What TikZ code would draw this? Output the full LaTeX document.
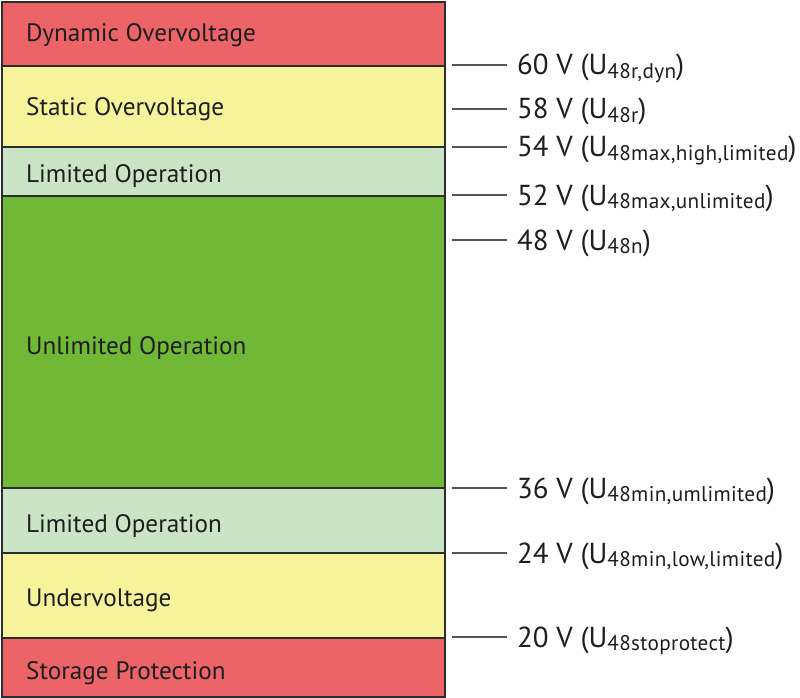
\documentclass[tikz,border=0pt]{standalone}
\usepackage{fontspec}
\setmainfont{PT Sans}
\definecolor{bandred}{RGB}{236,100,104}
\definecolor{bandyellow}{RGB}{247,243,155}
\definecolor{bandlight}{RGB}{204,228,198}
\definecolor{bandgreen}{RGB}{112,184,53}
\definecolor{bordergray}{RGB}{45,45,45}
\definecolor{tickgray}{RGB}{85,85,85}
\definecolor{textcol}{RGB}{30,30,30}
\newcommand\vsub[1]{\raisebox{-3.5bp}{\fontsize{21.3}{21.3}\selectfont\addfontfeatures{LetterSpace=1.5}#1}}
\begin{document}
\begin{tikzpicture}[x=1bp,y=-1bp,
  band/.style={draw=bordergray, line width=1.5bp},
  lbl/.style={anchor=base west, inner sep=0pt, font=\fontsize{25.3}{25.3}\selectfont, text=textcol},
  vlbl/.style={anchor=base west, inner sep=0pt, font=\fontsize{29}{29}\selectfont, text=textcol},
  tick/.style={draw=tickgray, line width=1.5bp}]
\useasboundingbox (0,0) rectangle (800,698);
% bands
\filldraw[band, fill=bandred]    (2,2)   rectangle (445,66);
\filldraw[band, fill=bandyellow] (2,66)  rectangle (445,147);
\filldraw[band, fill=bandlight]  (2,147) rectangle (445,196);
\filldraw[band, fill=bandgreen]  (2,196) rectangle (445,488);
\filldraw[band, fill=bandlight]  (2,488) rectangle (445,553);
\filldraw[band, fill=bandyellow] (2,553) rectangle (445,638);
\filldraw[band, fill=bandred]    (2,638) rectangle (445,697);
% band labels
\node[lbl] (dyn)  at (26,42)  {Dynamic Overvoltage};
\node[lbl] (stat) at (26,116) {Static Overvoltage};
\node[lbl] (lim1) at (26,182) {Limited Operation};
\node[lbl] (unl)  at (26,354) {Unlimited Operation};
\node[lbl] (lim2) at (26,532) {Limited Operation};
\node[lbl] (und)  at (26,606) {Undervoltage};
\node[lbl] (sto)  at (26,679) {Storage Protection};
% ticks
\foreach \n/\y in {a/65,b/109,c/147,d/195,e/240,f/488,g/553,h/637}{
  \coordinate (s\n) at (452,\y);
  \coordinate (e\n) at (507,\y);
  \draw[tick] (s\n) -- (e\n);
}
% value labels
\node[vlbl] (va) at (517,75)  {60 V (U\vsub{48r,dyn})};
\node[vlbl] (vb) at (517,119) {58 V (U\vsub{48r})};
\node[vlbl] (vc) at (517,157) {54 V (U\vsub{48max,high,limited})};
\node[vlbl] (vd) at (517,205) {52 V (U\vsub{48max,unlimited})};
\node[vlbl] (ve) at (517,250) {48 V (U\vsub{48n})};
\node[vlbl] (vf) at (517,498) {36 V (U\vsub{48min,umlimited})};
\node[vlbl] (vg) at (517,563) {24 V (U\vsub{48min,low,limited})};
\node[vlbl] (vh) at (517,647) {20 V (U\vsub{48stoprotect})};
\end{tikzpicture}
\end{document}
